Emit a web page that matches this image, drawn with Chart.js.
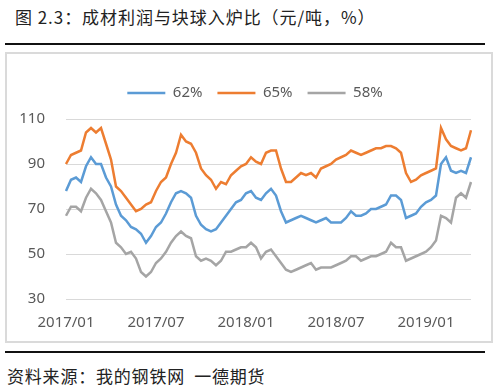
<!DOCTYPE html>
<html>
<head>
<meta charset="utf-8">
<script src="https://cdn.jsdelivr.net/npm/chart.js@4.4.1/dist/chart.umd.min.js"></script>
<style>
  body { margin: 0; width: 500px; height: 389px; background: #fff; position: relative; overflow: hidden;
         font-family: "Noto Sans CJK SC", sans-serif; }
  #title { position: absolute; left: 15px; top: 7px; font-size: 17px; line-height: 20px; color: #222;
           white-space: nowrap; letter-spacing: 0.95px; }
  .rule { position: absolute; left: 5px; width: 480px; height: 2px; background: #111; }
  #box { position: absolute; left: 5px; top: 52px; width: 488px; height: 291px; box-sizing: border-box;
         border: 2px solid #dadada; }
  #source { position: absolute; left: 7px; top: 366px; font-size: 17px; line-height: 20px; color: #222;
            white-space: nowrap; letter-spacing: 0.8px; }
</style>
</head>
<body>
<div id="title">图 2.3：成材利润与块球入炉比（元/吨，%）</div>
<div class="rule" style="top:43px"></div>
<div id="box"><canvas id="ratioChart" width="484" height="287"></canvas></div>
<div class="rule" style="top:351px"></div>
<div id="source">资料来源：我的钢铁网&nbsp;&nbsp;一德期货</div>

<script>
// tick labels shown on the x axis
const tickLabels = ['2017/01', '2017/07', '2018/01', '2018/07', '2019/01'];

// sample dates, three per month (01, 11, 21) from 2017/01/01 to 2019/04/11
const dates = [];
for (let y = 2017; y <= 2019; y++) {
    for (let m = 1; m <= 12; m++) {
        for (const d of ['01', '11', '21']) {
            dates.push(`${y}/${String(m).padStart(2, '0')}/${d}`);
        }
    }
}
dates.length = 82;

// 62% series
const s62 = [78, 83, 84, 82, 89, 93, 90, 90, 84, 80,
             72, 67, 65, 62, 61, 59, 55, 58, 62, 64,
             68, 73, 77, 78, 77, 75, 67, 63, 61, 60,
             61, 64, 67, 70, 73, 74, 77, 78, 75, 74,
             77, 79, 76, 69, 64, 65, 66, 67, 66, 65,
             64, 65, 66, 64, 64, 64, 66, 69, 67, 67,
             68, 70, 70, 71, 72, 76, 76, 74, 66, 67,
             68, 71, 73, 74, 76, 90, 93, 87, 86, 87,
             86, 93];

// 65% series
const s65 = [90, 94, 95, 96, 104, 106, 104, 106, 99, 92,
             80, 78, 75, 72, 69, 70, 72, 73, 78, 82,
             84, 90, 95, 103, 100, 99, 95, 88, 85, 83,
             79, 82, 81, 85, 87, 89, 90, 93, 91, 90,
             95, 96, 96, 88, 82, 82, 84, 86, 85, 86,
             84, 88, 89, 90, 92, 93, 94, 96, 95, 94,
             95, 96, 97, 97, 98, 98, 97, 95, 86, 82,
             83, 85, 86, 87, 88, 106, 101, 98, 97, 96,
             97, 105];

// 58% series
const s58 = [67, 71, 71, 69, 75, 79, 77, 74, 69, 64,
             55, 53, 50, 51, 48, 42, 40, 42, 46, 48,
             51, 55, 58, 60, 58, 57, 49, 47, 48, 47,
             45, 47, 51, 51, 52, 53, 53, 55, 53, 48,
             51, 52, 49, 46, 43, 42, 43, 44, 45, 46,
             43, 44, 44, 44, 45, 46, 47, 49, 49, 47,
             48, 49, 49, 50, 51, 55, 53, 53, 47, 48,
             49, 50, 51, 53, 56, 67, 66, 64, 75, 77,
             75, 82];

const textColor = '#595959';
const tickFont = { family: 'Noto Sans', size: 15 };

// legend sits a little right of the canvas centre
const shiftLegend = {
    id: 'shiftLegend',
    afterLayout(chart) {
        chart.legend.left += 16;
        chart.legend.right += 16;
    }
};

const ctx = document.getElementById('ratioChart').getContext('2d');
const ratioChart = new Chart(ctx, {
    type: 'line',
    data: {
        labels: dates,
        datasets: [
            { label: '62%', data: s62, borderColor: '#5B9BD5', backgroundColor: '#5B9BD5' },
            { label: '65%', data: s65, borderColor: '#ED7D31', backgroundColor: '#ED7D31' },
            { label: '58%', data: s58, borderColor: '#A5A5A5', backgroundColor: '#A5A5A5' }
        ]
    },
    plugins: [shiftLegend],
    options: {
        responsive: false,
        animation: false,
        datasets: { line: { borderWidth: 2.5, pointRadius: 0, tension: 0 } },
        layout: { padding: { left: 0, right: 20, top: 16.5, bottom: 0 } },
        plugins: {
            tooltip: { enabled: false },
            // empty title used as a spacer between legend and plot
            title: { display: true, text: '', weight: 500, padding: 0, font: { size: 8.5, lineHeight: 1 } },
            legend: {
                position: 'top',
                labels: {
                    usePointStyle: true,
                    pointStyle: 'line',
                    pointStyleWidth: 38,
                    padding: 15,
                    color: textColor,
                    font: tickFont
                }
            }
        },
        scales: {
            x: {
                afterFit: function (scale) { scale.height = 42; },
                grid: { display: false, drawTicks: false },
                border: { display: false },
                ticks: {
                    autoSkip: false,
                    maxRotation: 0,
                    padding: 15,
                    color: textColor,
                    font: tickFont,
                    callback: function (value) {
                        const label = this.getLabelForValue(value);
                        const ym = label.slice(0, 7);
                        return label.endsWith('/01') && tickLabels.includes(ym) ? ym : '';
                    }
                }
            },
            y: {
                min: 30,
                max: 110,
                afterFit: function (scale) { scale.width = 59; },
                grid: { color: '#d9d9d9', lineWidth: 1, drawTicks: false },
                border: { display: false },
                ticks: { stepSize: 20, padding: 21, color: textColor, font: tickFont }
            }
        }
    }
});
</script>
</body>
</html>
